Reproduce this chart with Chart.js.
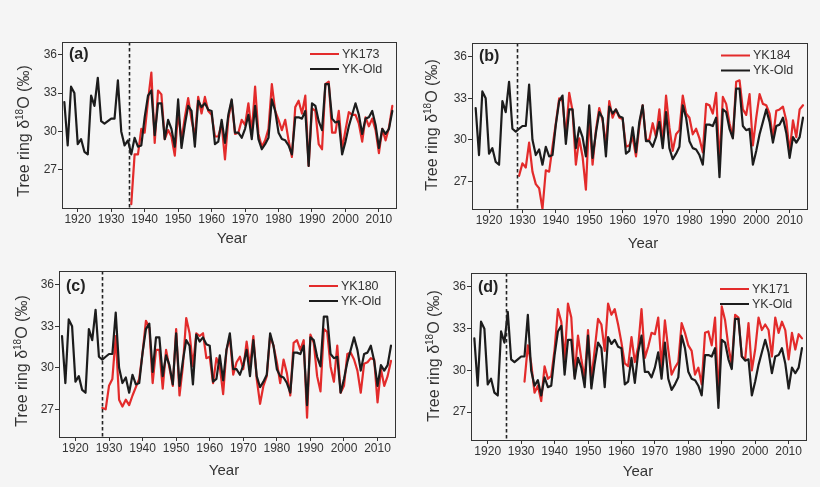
<!DOCTYPE html>
<html><head><meta charset="utf-8">
<script src="https://cdn.jsdelivr.net/npm/chart.js@4.4.1/dist/chart.umd.min.js"></script>
<style>
html,body{margin:0;padding:0;background:#f5f5f5;}
body{width:820px;height:487px;position:relative;overflow:hidden;font-family:"Liberation Sans",Arial,sans-serif;color:#333;}
canvas{position:absolute;}
.xt{position:absolute;font-size:15px;transform:translate(-50%,-50%);white-space:nowrap;}
.yt{position:absolute;font-size:16px;transform:translate(-50%,-50%) rotate(-90deg);white-space:nowrap;}
.yt .s{font-size:10px;position:relative;top:-6px;}
</style></head><body>
<canvas id="ca" width="410" height="245" style="left:0;top:0"></canvas>
<canvas id="cb" width="410" height="245" style="left:410px;top:0"></canvas>
<canvas id="cc" width="410" height="242" style="left:0;top:245px"></canvas>
<canvas id="cd" width="410" height="242" style="left:410px;top:245px"></canvas>
<div class="xt" style="left:232px;top:237px">Year</div>
<div class="xt" style="left:643px;top:242px">Year</div>
<div class="xt" style="left:224px;top:469px">Year</div>
<div class="xt" style="left:638px;top:470px">Year</div>
<div class="yt" style="left:24px;top:131px">Tree ring δ<span class="s">18</span>O (‰)</div>
<div class="yt" style="left:432px;top:125px">Tree ring δ<span class="s">18</span>O (‰)</div>
<div class="yt" style="left:22px;top:361px">Tree ring δ<span class="s">18</span>O (‰)</div>
<div class="yt" style="left:434px;top:356px">Tree ring δ<span class="s">18</span>O (‰)</div>
<script>
// ---- data ----
const yearTicks = [1920, 1930, 1940, 1950, 1960, 1970, 1980, 1990, 2000, 2010];
const valueTicks = [27, 30, 33, 36];
const panelLabels = ['(a)', '(b)', '(c)', '(d)'];
const seriesNames = ['YK173', 'YK184', 'YK180', 'YK171'];
const oldName = 'YK-Old';
const cutoffYears = [1935.4, 1928.3, 1928.0, 1925.5];

const oldStart = 1916;
const ykOld = [
  32.3, 28.9, 33.5, 33.0, 29.0, 29.4, 28.4, 28.2, 32.8, 32.0,
  34.2, 30.8, 30.6, 30.8, 31.0, 31.0, 34.0, 30.0, 28.9, 29.3,
  28.2, 29.5, 28.8, 28.9, 31.1, 32.8, 33.2, 29.7, 32.2, 32.2,
  29.4, 30.9, 30.2, 28.8, 32.5, 28.7, 30.5, 32.0, 31.6, 28.8,
  32.4, 31.9, 32.2, 31.7, 31.6, 29.0, 29.2, 30.9, 29.1, 31.3,
  32.5, 29.9, 29.9, 29.5, 30.2, 31.3, 29.4, 32.0, 29.4, 28.6,
  29.0, 29.5, 32.5, 31.6, 29.9, 29.4, 29.3, 28.9, 28.2, 31.1,
  31.1, 31.0, 31.6, 27.3, 32.2, 32.0, 30.8, 30.1, 33.7, 33.7,
  31.0, 30.7, 30.8, 28.2, 29.2, 30.4, 31.3, 32.2, 31.3, 29.8,
  31.0, 31.1, 31.6, 30.5, 28.7, 30.2, 29.8, 30.2, 31.6
];

const yk173Start = 1936;
const yk173 = [
  24.3, 28.2, 28.2, 30.2, 29.9, 32.4, 34.6, 29.1, 33.2, 32.9,
  29.4, 30.1, 29.6, 28.1, 31.5, 29.3, 31.1, 32.6, 30.9, 29.6,
  32.7, 31.4, 32.7, 31.6, 31.3, 29.6, 29.6, 30.6, 27.8, 31.0,
  32.4, 29.8, 29.9, 30.9, 30.5, 32.2, 29.9, 33.5, 29.8, 28.8,
  29.3, 30.2, 33.7, 31.6, 30.9, 30.1, 30.9, 29.3, 28.0, 31.9,
  32.4, 31.4, 32.8, 27.3, 31.8, 31.6, 29.0, 28.6, 33.7, 33.9,
  29.9, 29.9, 31.6, 28.6, 30.1, 31.5, 31.3, 31.3, 30.6, 29.2,
  31.1, 30.4, 31.0, 30.1, 28.3, 30.2, 29.3, 30.3, 32.0
];

const yk184Start = 1929;
const yk184 = [
  27.4, 28.3, 28.0, 29.8, 27.7, 26.8, 26.5, 25.0, 27.8, 27.7,
  29.5, 31.2, 33.0, 32.8, 30.2, 33.4, 32.1, 28.2, 30.1, 28.8,
  26.4, 31.8, 28.2, 30.7, 32.3, 31.4, 29.6, 32.8, 31.6, 32.2,
  31.6, 31.5, 29.5, 29.6, 30.2, 28.8, 31.0, 32.5, 30.0, 30.0,
  31.2, 30.2, 32.2, 29.7, 33.2, 30.9, 29.2, 30.4, 30.7, 33.2,
  31.9, 31.6, 30.4, 30.8, 30.1, 29.1, 32.6, 32.5, 31.9, 33.4,
  28.2, 33.1, 32.6, 31.2, 30.2, 34.2, 34.3, 32.2, 31.8, 33.3,
  29.6, 31.6, 33.3, 32.6, 32.5, 31.9, 30.1, 32.1, 32.2, 32.4,
  31.4, 29.1, 31.4, 30.2, 32.2, 32.5
];

const yk180Start = 1928;
const yk180 = [
  27.1, 27.0, 28.7, 29.2, 32.3, 27.7, 27.2, 27.7, 27.3, 28.0,
  28.6, 29.2, 31.1, 33.4, 32.9, 28.9, 31.3, 31.3, 28.5, 31.3,
  30.0, 28.7, 32.8, 28.0, 30.1, 33.6, 32.5, 30.1, 32.5, 32.3,
  32.5, 30.7, 30.8, 28.9, 30.7, 30.1, 28.1, 31.3, 32.2, 29.5,
  30.4, 30.8, 29.9, 31.9, 30.1, 32.3, 29.2, 27.4, 28.7, 29.4,
  32.3, 31.6, 30.4, 28.9, 30.6, 29.6, 28.0, 31.8, 32.0, 31.3,
  32.0, 26.4, 32.4, 31.8, 29.4, 28.3, 32.8, 32.6, 30.1, 29.0,
  31.6, 28.2, 28.7, 31.0, 31.1, 30.6, 29.8, 28.2, 30.3, 30.4,
  30.7, 30.6, 27.5, 29.9, 28.7, 29.4, 30.5
];

const yk171Start = 1931;
const yk171 = [
  29.2, 31.8, 30.5, 28.4, 28.9, 27.8, 30.3, 29.4, 29.6, 31.5,
  34.4, 33.5, 30.8, 34.8, 33.8, 29.6, 32.5, 30.8, 29.4, 32.9,
  29.3, 31.5, 33.7, 33.3, 31.4, 34.8, 34.0, 34.4, 33.3, 32.0,
  30.5, 30.3, 32.4, 30.6, 31.7, 34.4, 30.9, 31.7, 32.7, 32.6,
  33.8, 30.2, 33.6, 31.5, 29.7, 30.2, 30.6, 33.4, 32.7, 31.8,
  31.4, 29.7, 30.2, 29.0, 32.7, 32.8, 31.8, 33.8, 27.8, 34.6,
  33.6, 31.7, 30.4, 34.0, 33.8, 31.0, 30.8, 33.4, 30.0, 31.5,
  33.8, 32.9, 33.3, 32.9, 31.0, 33.8, 32.7, 33.5, 32.9, 30.8,
  32.7, 31.5, 32.6, 32.3
];

// ---- styling / layout ----
const RED = '#e32b2b';
const BLACK = '#1c1c1c';
const AXIS = '#333333';
const FONT = '"Liberation Sans", Arial, sans-serif';

function toPoints(start, vals) { return vals.map((v, i) => ({ x: start + i, y: v })); }

const decor = {
  id: 'decor',
  afterDatasetsDraw(chart, args, o) {
    const { ctx, chartArea: a, scales } = chart;
    const x = Math.round(scales.x.getPixelForValue(o.cut)) + 0.5;
    ctx.save();
    ctx.strokeStyle = '#222';
    ctx.lineWidth = 1.6;
    ctx.setLineDash([3.5, 2.5]);
    ctx.beginPath(); ctx.moveTo(x, a.top); ctx.lineTo(x, a.bottom); ctx.stroke();
    ctx.restore();
  },
  afterDraw(chart, args, o) {
    const { ctx, chartArea: a } = chart;
    ctx.save();
    ctx.strokeStyle = AXIS; ctx.lineWidth = 1;
    ctx.strokeRect(Math.round(a.left) + 0.5, Math.round(a.top) + 0.5, Math.round(a.right - a.left), Math.round(a.bottom - a.top));
    ctx.fillStyle = '#222';
    ctx.font = 'bold 16px ' + FONT;
    ctx.textBaseline = 'middle'; ctx.textAlign = 'left';
    ctx.fillText(o.label, a.left + o.lx, a.top + o.ly);
    const rows = [[o.name, RED], [oldName, BLACK]];
    ctx.font = '12.5px ' + FONT;
    rows.forEach((r, i) => {
      const y = a.top + o.gy + i * 15;
      ctx.strokeStyle = r[1]; ctx.lineWidth = 2;
      ctx.beginPath(); ctx.moveTo(a.right - o.gx1, y); ctx.lineTo(a.right - o.gx2, y); ctx.stroke();
      ctx.fillStyle = '#333';
      ctx.fillText(r[0], a.right - o.gx2 + 3, y + 0.5);
    });
    ctx.restore();
  }
};

function makePanel(id, cfg) {
  const cv = document.getElementById(id);
  const W = cv.width, H = cv.height;
  const XH = 30;
  const lineStyle = { borderWidth: 2.2, pointRadius: 0, tension: 0, borderJoinStyle: 'round', borderCapStyle: 'round' };
  new Chart(cv, {
    type: 'line',
    data: {
      datasets: [
        Object.assign({ label: oldName, data: toPoints(oldStart, ykOld), borderColor: BLACK }, lineStyle),
        Object.assign({ label: cfg.name, data: toPoints(cfg.start, cfg.vals), borderColor: RED }, lineStyle)
      ]
    },
    options: {
      responsive: false, animation: false, events: [],
      layout: { padding: { left: 0, top: cfg.T, right: W - cfg.R, bottom: H - cfg.B - XH } },
      plugins: {
        legend: { display: false }, tooltip: { enabled: false },
        decor: { cut: cfg.cut, label: cfg.label, name: cfg.name, lx: 7, ly: cfg.ly, gx1: 86, gx2: 57, gy: cfg.gy }
      },
      scales: {
        x: {
          type: 'linear', min: cfg.xmin, max: cfg.xmax,
          afterBuildTicks: s => { s.ticks = yearTicks.map(v => ({ value: v })); },
          afterFit: s => { s.height = XH; },
          grid: { drawOnChartArea: false, drawTicks: true, tickLength: 4, color: AXIS, lineWidth: 1 },
          border: { display: true, color: AXIS, width: 1 },
          ticks: { color: '#333', font: { family: FONT, size: 12 }, padding: 0, maxRotation: 0, autoSkip: false,
                   callback: v => String(v) }
        },
        y: {
          type: 'linear', min: cfg.ymin, max: cfg.ymax,
          afterBuildTicks: s => { s.ticks = valueTicks.map(v => ({ value: v })); },
          afterFit: s => { s.width = cfg.L; },
          grid: { drawOnChartArea: false, drawTicks: true, tickLength: 4, color: AXIS, lineWidth: 1 },
          border: { display: true, color: AXIS, width: 1 },
          ticks: { color: '#333', font: { family: FONT, size: 12 }, padding: 1, callback: v => String(v) }
        }
      }
    },
    plugins: [decor]
  });
}

makePanel('ca', { name: seriesNames[0], label: panelLabels[0], start: yk173Start, vals: yk173, cut: cutoffYears[0],
  L: 62, T: 42, R: 396, B: 208, xmin: 1915.3, xmax: 2015.1, ymin: 24, ymax: 37, ly: 13, gy: 12 });
makePanel('cb', { name: seriesNames[1], label: panelLabels[1], start: yk184Start, vals: yk184, cut: cutoffYears[1],
  L: 62, T: 43, R: 397, B: 209, xmin: 1914.9, xmax: 2015.2, ymin: 25, ymax: 37, ly: 14, gy: 12.5 });
makePanel('cc', { name: seriesNames[2], label: panelLabels[2], start: yk180Start, vals: yk180, cut: cutoffYears[2],
  L: 59, T: 26, R: 395, B: 192, xmin: 1915.1, xmax: 2015.2, ymin: 25, ymax: 37, ly: 15.5, gy: 15 });
makePanel('cd', { name: seriesNames[3], label: panelLabels[3], start: yk171Start, vals: yk171, cut: cutoffYears[3],
  L: 61, T: 28, R: 396, B: 195, xmin: 1915.0, xmax: 2015.2, ymin: 25, ymax: 37, ly: 15, gy: 16 });
</script>
</body></html>
